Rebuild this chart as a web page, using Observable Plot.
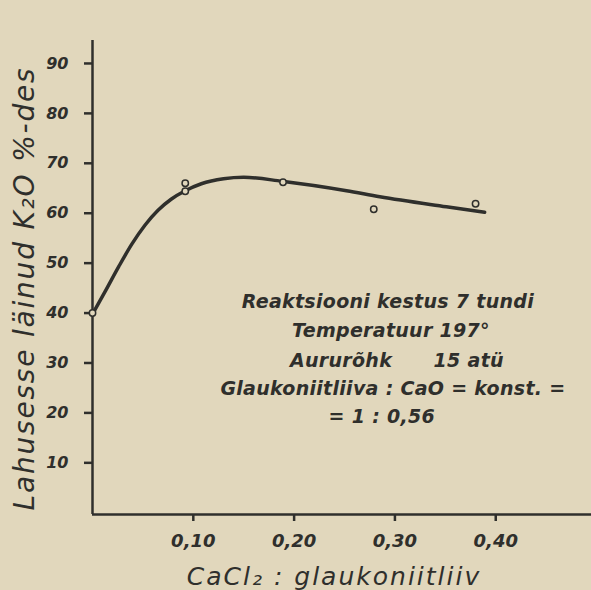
<!DOCTYPE html>
<html>
<head>
<meta charset="utf-8">
<script src="https://cdn.jsdelivr.net/npm/d3@7"></script>
<script src="https://cdn.jsdelivr.net/npm/@observablehq/plot@0.6"></script>
<style>
  html, body { margin: 0; padding: 0; background: #e1d7bc; }
  #chart { width: 591px; height: 590px; overflow: hidden; }
  .note text { letter-spacing: 0.3px; }
  .xtitle text { letter-spacing: 2px; }
  .ytitle text { letter-spacing: 1.8px; }
</style>
</head>
<body>
<div id="chart"></div>
<script>
// Observed points (CaCl2 : glaukoniitliiv, K2O dissolved %)
const obsX = [0, 0.092, 0.092, 0.189, 0.279, 0.380];
const obsY = [40, 66.0, 64.4, 66.2, 60.8, 61.9];

// Hand-drawn smooth curve
const curveX = [0, 0.013, 0.026, 0.039, 0.052, 0.065, 0.078, 0.092, 0.108, 0.130, 0.150, 0.188, 0.252, 0.285, 0.351, 0.389];
const curveY = [39.8, 44.5, 49.3, 53.8, 57.6, 60.6, 62.8, 64.5, 65.9, 66.9, 67.2, 66.4, 64.5, 63.3, 61.3, 60.2];

// Axis ticks and labels
const xTicks = [0.10, 0.20, 0.30, 0.40];
const xTickLabels = ["0,10", "0,20", "0,30", "0,40"];
const yTicks = [10, 20, 30, 40, 50, 60, 70, 80, 90];
const yTickLabels = ["10", "20", "30", "40", "50", "60", "70", "80", "90"];

const xTitle = "CaCl\u2082 : glaukoniitliiv";
const yTitle = "Lahusesse läinud K\u2082O %-des";

// Annotation block
const noteLines = [
  "Reaktsiooni kestus 7 tundi",
  "Temperatuur 197°",
  "Aururõhk\u00a0\u00a0\u00a0\u00a0\u00a0\u00a015 atü",
  "Glaukoniitliiva : CaO = konst. =",
  "= 1 : 0,56"
];
const noteX = [0.293, 0.296, 0.302, 0.298, 0.287];
const noteY = [42.3, 36.5, 30.5, 24.9, 19.1];

const ink = "#2f2f2c";
const paper = "#e1d7bc";
const font = "'DejaVu Sans', sans-serif";
const xDomain = [0, 0.495];
const yDomain = [-0.35, 94.6];

const curve = curveX.map((x, i) => ({x, y: curveY[i]}));
const obs = obsX.map((x, i) => ({x, y: obsY[i]}));
const notes = noteLines.map((t, i) => ({t, x: noteX[i], y: noteY[i]}));

const chart = Plot.plot({
  width: 591,
  height: 590,
  marginLeft: 92,
  marginRight: 0,
  marginTop: 40,
  marginBottom: 76,
  style: {background: paper, color: ink, fontFamily: font},
  x: {domain: xDomain},
  y: {domain: yDomain},
  marks: [
    Plot.axisX({
      ticks: xTicks,
      tickFormat: (d) => xTickLabels[xTicks.indexOf(d)],
      tickSize: 7,
      tickPadding: 13,
      strokeWidth: 2.5,
      stroke: ink,
      fill: ink,
      fontSize: 18,
      fontWeight: 700,
      fontStyle: "italic",
      label: null
    }),
    Plot.axisY({
      ticks: yTicks,
      tickFormat: (d) => yTickLabels[yTicks.indexOf(d)],
      tickSize: 8,
      tickPadding: 16,
      strokeWidth: 2.5,
      stroke: ink,
      fill: ink,
      fontSize: 16,
      fontWeight: 700,
      fontStyle: "italic",
      label: null
    }),
    Plot.ruleX([xDomain[0]], {stroke: ink, strokeWidth: 2.5}),
    Plot.ruleY([yDomain[0]], {stroke: ink, strokeWidth: 2.5}),
    Plot.line(curve, {x: "x", y: "y", curve: "monotone-x", stroke: ink, strokeWidth: 3.5}),
    Plot.dot(obs, {x: "x", y: "y", r: 3.2, stroke: ink, strokeWidth: 1.5, fill: paper}),
    Plot.text(notes, {
      x: "x", y: "y", text: "t",
      fill: ink, fontSize: 19, fontWeight: 600, fontStyle: "italic",
      textAnchor: "middle", lineAnchor: "middle",
      className: "note"
    }),
    Plot.text([xTitle], {
      frameAnchor: "bottom", dy: 62, dx: -8, text: (d) => d,
      fill: ink, fontSize: 25, fontStyle: "italic", fontWeight: 500,
      lineAnchor: "middle",
      className: "xtitle"
    }),
    Plot.text([yTitle], {
      frameAnchor: "left", dx: -67, dy: 11, rotate: -90, text: (d) => d,
      fill: ink, fontSize: 28, fontStyle: "italic", fontWeight: 500,
      lineAnchor: "middle", textAnchor: "middle",
      className: "ytitle"
    })
  ]
});
document.getElementById("chart").appendChild(chart);
</script>
</body>
</html>
